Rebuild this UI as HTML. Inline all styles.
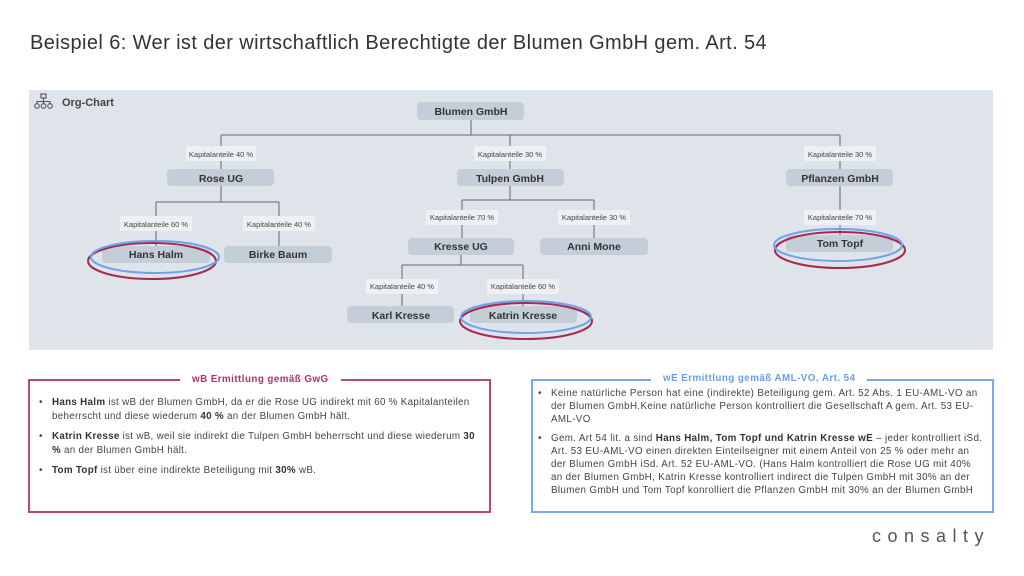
<!DOCTYPE html>
<html><head><meta charset="utf-8"><style>
body{margin:0;width:1024px;height:576px;background:#fff;font-family:"Liberation Sans",sans-serif;position:relative;overflow:hidden}
.t{position:absolute;left:30px;top:32px;font-size:20px;color:#333;letter-spacing:0.4px}
.box{position:absolute;box-sizing:border-box;font-size:9.8px;color:#444;line-height:13.5px;letter-spacing:0.3px}
.box ul{margin:0;padding:0 0 0 16px;list-style:none}
.box li{position:relative;margin-bottom:7px}
.box li:before{content:"•";position:absolute;left:-13px}
.lg{position:absolute;top:-8px;background:#fff;padding:0 12px;font-weight:bold;font-size:9.8px;letter-spacing:0.45px}
b{color:#333}
</style></head><body>
<div class="t">Beispiel 6: Wer ist der wirtschaftlich Berechtigte der Blumen GmbH gem. Art. 54</div>
<svg width="1024" height="576" style="position:absolute;left:0;top:0" font-family="Liberation Sans, sans-serif">
<rect x="29" y="90" width="964" height="260" fill="#dfe3ea"/>
<g fill="none" stroke="#555" stroke-width="1.1">
<rect x="41" y="94" width="5" height="4"/><circle cx="37" cy="106" r="2.3"/><circle cx="43.5" cy="106" r="2.3"/><circle cx="50" cy="106" r="2.3"/>
<path d="M43.5 98v3M37 103.5v-2h13v2M43.5 101v2.5"/>
</g>
<text x="62" y="106" font-size="11" font-weight="bold" fill="#444">Org-Chart</text>
<g stroke="#666" stroke-width="1" fill="none">
<path d="M471 120v15M221 135h619M221 135v34M510 135v34M840 135v34"/>
<path d="M221 186v16M156 202h123M156 202v44M279 202v44"/>
<path d="M510 186v14M462 200h132M462 200v38M594 200v38"/>
<path d="M461 255v10M402 265h121M402 265v41M523 265v41"/>
<path d="M840 186v49"/>
</g>
<g fill="#eef0f3">
<rect x="186" y="146" width="70" height="15"/><rect x="474" y="146" width="72" height="15"/><rect x="804" y="146" width="72" height="15"/>
<rect x="120" y="216" width="72" height="15"/><rect x="243" y="216" width="72" height="15"/>
<rect x="426" y="210" width="72" height="15"/><rect x="558" y="210" width="72" height="15"/><rect x="804" y="210" width="72" height="15"/>
<rect x="366" y="279" width="72" height="15"/><rect x="487" y="279" width="72" height="15"/>
</g>
<g font-size="7.5" fill="#444" text-anchor="middle">
<text x="221" y="157">Kapitalanteile 40 %</text><text x="510" y="157">Kapitalanteile 30 %</text><text x="840" y="157">Kapitalanteile 30 %</text>
<text x="156" y="227">Kapitalanteile 60 %</text><text x="279" y="227">Kapitalanteile 40 %</text>
<text x="462" y="220">Kapitalanteile 70 %</text><text x="594" y="220">Kapitalanteile 30 %</text><text x="840" y="220">Kapitalanteile 70 %</text>
<text x="402" y="289">Kapitalanteile 40 %</text><text x="523" y="289">Kapitalanteile 60 %</text>
</g>
<g fill="#c4ced8">
<rect x="417" y="102" width="107" height="18" rx="4"/>
<rect x="167" y="169" width="107" height="17" rx="4"/><rect x="457" y="169" width="107" height="17" rx="4"/><rect x="786" y="169" width="107" height="17" rx="4"/>
<rect x="102" y="246" width="108" height="17" rx="4"/><rect x="224" y="246" width="108" height="17" rx="4"/>
<rect x="408" y="238" width="106" height="17" rx="4"/><rect x="540" y="238" width="108" height="17" rx="4"/><rect x="786" y="235" width="107" height="17" rx="4"/>
<rect x="347" y="306" width="107" height="17" rx="4"/><rect x="470" y="306" width="107" height="17" rx="4"/>
</g>
<g font-size="10.5" font-weight="bold" fill="#333" text-anchor="middle">
<text x="471" y="115">Blumen GmbH</text><text x="221" y="182">Rose UG</text><text x="510" y="182">Tulpen GmbH</text><text x="840" y="182">Pflanzen GmbH</text>
<text x="156" y="258">Hans Halm</text><text x="278" y="258">Birke Baum</text>
<text x="461" y="250">Kresse UG</text><text x="594" y="250">Anni Mone</text><text x="840" y="247">Tom Topf</text>
<text x="401" y="319">Karl Kresse</text><text x="523" y="319">Katrin Kresse</text>
</g>
<g fill="none" stroke-width="2">
<ellipse cx="152" cy="261" rx="64" ry="18" stroke="#a8294f"/><ellipse cx="155" cy="257" rx="64" ry="16" stroke="#6ea3ea"/>
<ellipse cx="840" cy="250" rx="65" ry="18" stroke="#a8294f"/><ellipse cx="838" cy="245" rx="64" ry="16" stroke="#6ea3ea"/>
<ellipse cx="526" cy="321" rx="66" ry="18" stroke="#a8294f"/><ellipse cx="526" cy="317" rx="65" ry="16" stroke="#6ea3ea"/>
</g>
</svg>
<div class="box" style="left:28px;top:379px;width:463px;height:134px;border:2px solid #b5487a;padding:15px 6px 0 6px">
<div class="lg" style="left:150px;color:#b3306a">wB Ermittlung gemäß GwG</div>
<ul>
<li><b>Hans Halm</b> ist wB der Blumen GmbH, da er die Rose UG indirekt mit 60 % Kapitalanteilen beherrscht und diese wiederum <b>40 %</b> an der Blumen GmbH hält.</li>
<li><b>Katrin Kresse</b> ist wB, weil sie indirekt die Tulpen GmbH beherrscht und diese wiederum <b>30 %</b> an der Blumen GmbH hält.</li>
<li><b>Tom Topf</b> ist über eine indirekte Beteiligung mit <b>30%</b> wB.</li>
</ul></div>
<div class="box" style="left:531px;top:379px;width:463px;height:134px;border:2px solid #7aa8ec;padding:7px 8px 0 2px;line-height:12.8px;letter-spacing:0.35px">
<div class="lg" style="left:118px;color:#6a9fe6">wE Ermittlung gemäß AML-VO, Art. 54</div>
<ul>
<li>Keine natürliche Person hat eine (indirekte) Beteiligung gem. Art. 52 Abs. 1 EU-AML-VO an der Blumen GmbH.Keine natürliche Person kontrolliert die Gesellschaft A gem. Art. 53 EU-AML-VO</li>
<li>Gem. Art 54 lit. a sind <b>Hans Halm, Tom Topf und Katrin Kresse wE</b> – jeder kontrolliert iSd. Art. 53 EU-AML-VO einen direkten Einteilseigner mit einem Anteil von 25 % oder mehr an der Blumen GmbH iSd. Art. 52 EU-AML-VO. (Hans Halm kontrolliert die Rose UG mit 40% an der Blumen GmbH, Katrin Kresse kontrolliert indirect die Tulpen GmbH mit 30% an der Blumen GmbH und Tom Topf konrolliert die Pflanzen GmbH mit 30% an der Blumen GmbH</li>
</ul></div>
<div style="position:absolute;left:872px;top:526px;font-size:18px;letter-spacing:6.5px;color:#555">consalty</div>
</body></html>
